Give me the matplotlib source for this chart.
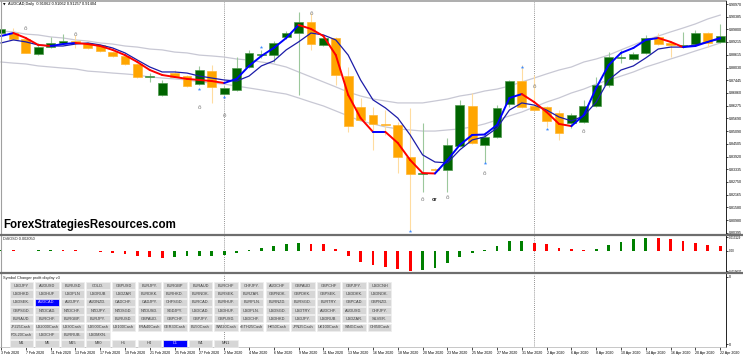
import matplotlib
matplotlib.use("Agg")
import matplotlib.pyplot as plt
from matplotlib.collections import LineCollection
from matplotlib.patches import Rectangle

W, H = 743, 356

# ---- data ----
date_labels = ['3 Feb 2020', '7 Feb 2020', '11 Feb 2020', '13 Feb 2020', '17 Feb 2020',
               '19 Feb 2020', '21 Feb 2020', '25 Feb 2020', '27 Feb 2020', '2 Mar 2020',
               '4 Mar 2020', '6 Mar 2020', '9 Mar 2020', '11 Mar 2020', '13 Mar 2020',
               '16 Mar 2020', '18 Mar 2020', '20 Mar 2020', '23 Mar 2020', '25 Mar 2020',
               '27 Mar 2020', '31 Mar 2020', '2 Apr 2020', '6 Apr 2020', '8 Apr 2020',
               '10 Apr 2020', '14 Apr 2020', '16 Apr 2020', '20 Apr 2020', '22 Apr 2020']

opens = [0.8963, 0.8963, 0.8935, 0.8866, 0.8898, 0.8917, 0.8924, 0.8917, 0.8908, 0.8875,
         0.8857, 0.8820, 0.8760, 0.8677, 0.8778, 0.8764, 0.8727, 0.8788, 0.8681, 0.8700,
         0.8806, 0.8861, 0.8861, 0.8945, 0.8963, 0.9014, 0.8908, 0.8940, 0.8764, 0.8621,
         0.8584, 0.8543, 0.8538, 0.8390, 0.8312, 0.8335, 0.8330, 0.8441, 0.8626, 0.8446,
         0.8483, 0.8635, 0.8741, 0.8626, 0.8621, 0.8594, 0.8547, 0.8552, 0.8626, 0.8723,
         0.8848, 0.8843, 0.8871, 0.8945, 0.8917, 0.8903, 0.8912, 0.8963, 0.8922]
highs = [0.9000, 0.8986, 0.8940, 0.8917, 0.8945, 0.8958, 0.8954, 0.8922, 0.8912, 0.8880,
         0.8861, 0.8824, 0.8778, 0.8746, 0.8792, 0.8769, 0.8811, 0.8815, 0.8718, 0.8852,
         0.8885, 0.8885, 0.8926, 0.8972, 0.9060, 0.9055, 0.8945, 0.8945, 0.8806, 0.8663,
         0.8621, 0.8607, 0.8552, 0.8617, 0.8547, 0.8339, 0.8478, 0.8654, 0.8686, 0.8506,
         0.8630, 0.8746, 0.8815, 0.8769, 0.8626, 0.8607, 0.8594, 0.8654, 0.8760, 0.8875,
         0.8885, 0.8875, 0.8954, 0.8963, 0.8922, 0.8968, 0.8977, 0.8968, 0.9005]
lows = [0.8954, 0.8931, 0.8869, 0.8861, 0.8894, 0.8912, 0.8894, 0.8889, 0.8875, 0.8852,
        0.8815, 0.8755, 0.8737, 0.8672, 0.8755, 0.8714, 0.8723, 0.8640, 0.8677, 0.8695,
        0.8801, 0.8848, 0.8829, 0.8935, 0.8677, 0.8885, 0.8903, 0.8723, 0.8506, 0.8557,
        0.8423, 0.8492, 0.8316, 0.8053, 0.8229, 0.8316, 0.8229, 0.8436, 0.8450, 0.8362,
        0.8478, 0.8621, 0.8617, 0.8603, 0.8529, 0.8469, 0.8524, 0.8547, 0.8621, 0.8714,
        0.8824, 0.8838, 0.8866, 0.8908, 0.8852, 0.8894, 0.8908, 0.8898, 0.8917]
closes = [0.8982, 0.8935, 0.8871, 0.8898, 0.8917, 0.8926, 0.8917, 0.8894, 0.8880, 0.8857,
          0.8820, 0.8760, 0.8764, 0.8732, 0.8760, 0.8718, 0.8792, 0.8714, 0.8709, 0.8801,
          0.8871, 0.8866, 0.8917, 0.8963, 0.9014, 0.8912, 0.8940, 0.8769, 0.8533, 0.8561,
          0.8543, 0.8538, 0.8390, 0.8312, 0.8316, 0.8330, 0.8446, 0.8630, 0.8455, 0.8483,
          0.8617, 0.8741, 0.8621, 0.8607, 0.8557, 0.8501, 0.8584, 0.8626, 0.8723, 0.8852,
          0.8852, 0.8866, 0.8940, 0.8912, 0.8908, 0.8908, 0.8963, 0.8917, 0.8949]

fast_ma = [0.8949, 0.8963, 0.8940, 0.8908, 0.8903, 0.8912, 0.8917, 0.8912, 0.8903, 0.8885,
           0.8861, 0.8829, 0.8792, 0.8769, 0.8760, 0.8751, 0.8746, 0.8741, 0.8732, 0.8751,
           0.8811, 0.8857, 0.8894, 0.8940, 0.9000, 0.8982, 0.8949, 0.8861, 0.8677, 0.8570,
           0.8506, 0.8506, 0.8455, 0.8376, 0.8316, 0.8314, 0.8376, 0.8446, 0.8492, 0.8494,
           0.8538, 0.8663, 0.8681, 0.8644, 0.8598, 0.8543, 0.8533, 0.8584, 0.8709, 0.8815,
           0.8871, 0.8894, 0.8931, 0.8940, 0.8922, 0.8898, 0.8903, 0.8922, 0.8940]
slow_ma = [0.8917, 0.8931, 0.8922, 0.8908, 0.8903, 0.8903, 0.8912, 0.8917, 0.8908, 0.8894,
           0.8871, 0.8838, 0.8806, 0.8783, 0.8783, 0.8778, 0.8764, 0.8755, 0.8746, 0.8741,
           0.8764, 0.8811, 0.8834, 0.8885, 0.8922, 0.8963, 0.8954, 0.8931, 0.8861, 0.8746,
           0.8654, 0.8617, 0.8570, 0.8492, 0.8400, 0.8367, 0.8363, 0.8423, 0.8469, 0.8483,
           0.8524, 0.8607, 0.8640, 0.8630, 0.8607, 0.8575, 0.8557, 0.8580, 0.8644, 0.8746,
           0.8792, 0.8811, 0.8848, 0.8889, 0.8898, 0.8898, 0.8908, 0.8922, 0.8935]
band_up = [0.8972, 0.8968, 0.8958, 0.8954, 0.8945, 0.8940, 0.8931, 0.8926, 0.8917, 0.8912,
           0.8903, 0.8898, 0.8889, 0.8885, 0.8875, 0.8871, 0.8861, 0.8857, 0.8852, 0.8843,
           0.8838, 0.8829, 0.8820, 0.8806, 0.8783, 0.8760, 0.8737, 0.8714, 0.8690, 0.8672,
           0.8658, 0.8649, 0.8640, 0.8640, 0.8640, 0.8649, 0.8658, 0.8672, 0.8681, 0.8695,
           0.8704, 0.8718, 0.8737, 0.8755, 0.8774, 0.8792, 0.8806, 0.8829, 0.8843, 0.8861,
           0.8885, 0.8908, 0.8931, 0.8949, 0.8968, 0.8986, 0.9005, 0.9028, 0.9046]
band_dn = [0.8829, 0.8824, 0.8820, 0.8811, 0.8806, 0.8801, 0.8797, 0.8787, 0.8783, 0.8778,
           0.8774, 0.8769, 0.8760, 0.8755, 0.8751, 0.8746, 0.8737, 0.8732, 0.8727, 0.8718,
           0.8709, 0.8700, 0.8690, 0.8681, 0.8663, 0.8644, 0.8626, 0.8603, 0.8580, 0.8557,
           0.8543, 0.8529, 0.8520, 0.8515, 0.8510, 0.8510, 0.8515, 0.8520, 0.8529, 0.8543,
           0.8561, 0.8580, 0.8598, 0.8621, 0.8644, 0.8663, 0.8686, 0.8704, 0.8727, 0.8746,
           0.8764, 0.8783, 0.8806, 0.8824, 0.8843, 0.8861, 0.8880, 0.8898, 0.8917]

osc = [0.0006, 0.0005, 0.0004, 0.0005, 0.0007, 0.0006, 0.0005, 0.0004, -0.0011, -0.0022,
       -0.0033, -0.0048, -0.0057, -0.0062, -0.0057, -0.0048, -0.0045, -0.0043, -0.0038, -0.0019,
       0.0005, 0.0024, 0.0045, 0.0069, 0.0079, 0.0069, 0.0064, 0.0022, -0.0048, -0.0102,
       -0.0133, -0.0149, -0.0174, -0.0187, -0.0181, -0.0164, -0.0117, -0.0054, -0.0022, 0.0010,
       0.0045, 0.0092, 0.0093, 0.0076, 0.0064, 0.0031, 0.0016, 0.0007, 0.0022, 0.0060,
       0.0086, 0.0111, 0.0126, 0.0125, 0.0111, 0.0092, 0.0079, 0.0054, 0.0045]

price_ticks = [0.90970, 0.90385, 0.89800, 0.89215, 0.88615, 0.88030, 0.87445, 0.86860,
               0.86275, 0.85690, 0.85090, 0.84505, 0.83920, 0.83335, 0.82750, 0.82165,
               0.81580, 0.80980, 0.80395]
osc_ticks = [0.013129, 0.0, -0.019037]
osc_tick_labels = ['0.013129', '0.00', '-0.019037']

arrow_bars = [16, 18, 21, 33, 39, 42, 44]
arrow_prices = [0.8704, 0.8667, 0.8898, 0.8050, 0.8362, 0.8806, 0.8520]
sign_bars = [2, 6, 25, 16, 18, 34, 36, 39, 43, 47]
sign_prices = [0.8982, 0.8958, 0.9051, 0.8621, 0.8580, 0.8196, 0.8205, 0.8316, 0.8714, 0.8510]
or_bar, or_price = 35, 0.8196
separator_bars = [18, 43]

symbol_rows = [
    ['USDJPY', 'AUDUSD', 'EURUSD', 'GOLD.', 'GBPUSD', 'EURJPY.', 'EURGBP', 'EURAUD', 'EURCHF',
     'CHFJPY.', 'AUDCHF', 'GBPAUD', 'GBPCHF', 'GBPJPY.', 'USDCNH'],
    ['USDHKD.', 'USDHUF', 'USDPLN', 'USDRUB', 'USDZAR', 'EURDKK.', 'EURHKD.', 'EURNOK.', 'EURSEK.',
     'EURZAR.', 'GBPNOK.', 'GBPDKK.', 'GBPSEK.', 'USDDKK.', 'USDNOK.'],
    ['USDSEK.', 'AUDCAD.', 'AUDJPY.', 'AUDNZD.', 'CADCHF.', 'CADJPY.', 'CHFSGD.', 'EURCAD.', 'EURHUF.',
     'EURPLN.', 'EURNZD.', 'EURSGD.', 'EURTRY.', 'GBPCAD.', 'GBPNZD.'],
    ['GBPSGD.', 'NZDCAD.', 'NZDCHF.', 'NZDJPY.', 'NZDSGD.', 'NZDUSD.', 'SGDJPY.', 'USDCAD.', 'USDHUF.',
     'USDPLN.', 'USDSGD.', 'USDTRY.', 'AUDCHF.', 'AUDUSD.', 'CHFJPY.'],
    ['EURAUD.', 'EURCHF.', 'EURGBP.', 'EURJPY.', 'EURUSD.', 'GBPAUD.', 'GBPCHF.', 'GBPJPY.', 'GBPUSD.',
     'USDCHF.', 'USDHKD.', 'USDJPY.', 'USDRUB.', 'USDZAR.', 'SILVER.'],
    ['JP225Cash', 'US2000Cash', 'US30Cash', 'US500Cash', 'US100Cash', 'FRA40Cash', 'GER30Cash',
     'EU50Cash', 'SWI20Cash', 'sETH25Cash', 'HK50Cash', 'JPN25Cash', 'UK100Cash', 'SINGCash',
     'CHI50Cash'],
    ['POL20Cash', 'USDCHF', 'EURRUB.', 'USDMXN.'],
]
active_symbol = 'AUDCAD.'
timeframes = ['M1', 'M5', 'M15', 'M30', 'H1', 'H4', 'D1', 'W1', 'MN1']
active_tf = 'D1'

plt.rcParams['font.family'] = ['Liberation Sans', 'DejaVu Sans']
SMALL = 2.6

# ---- figure ----
fig = plt.figure(figsize=(W / 100, H / 100), dpi=100)
fig.patch.set_facecolor('white')


def box(left, top, right, bottom):
    return [left / W, 1 - bottom / H, (right - left) / W, (bottom - top) / H]


ax = fig.add_axes(box(0, 2, 726, 234))
ax_osc = fig.add_axes(box(0, 236, 726, 272))
ax_sym = fig.add_axes(box(0, 274, 726, 347))
ax_ui = fig.add_axes([0, 0, 1, 1])
ax_ui.set_xlim(0, W)
ax_ui.set_ylim(H, 0)
ax_ui.axis('off')

idx = list(range(len(closes)))
for a in (ax, ax_osc, ax_sym):
    a.set_xlim(-1 / 12.4, 725 / 12.4)
    for s in a.spines.values():
        s.set_visible(False)
    a.yaxis.tick_right()
    a.tick_params(axis='y', length=1.3, width=0.5, pad=0.5, labelsize=SMALL, colors='black')
    for b in separator_bars:
        a.axvline(b, color='#707070', ls=(0, (1, 1.5)), lw=0.6, zorder=1)

# main price panel
ax.set_ylim(0.80344, 0.91063)
ax.set_xticks([])
ax.set_yticks(price_ticks)
ax.set_yticklabels([f'{v:.5f}' for v in price_ticks])

ax.plot(idx, band_up, color='#c8c8d4', lw=0.9, zorder=2)
ax.plot(idx, band_dn, color='#c8c8d4', lw=0.9, zorder=2)

bull = [c >= o for o, c in zip(opens, closes)]
wick_cols = ['#9cc89c' if b else '#ffdca0' for b in bull]
ax.vlines(idx, lows, highs, colors=wick_cols, lw=0.8, zorder=3)
body_bottom = [min(o, c) for o, c in zip(opens, closes)]
body_h = [max(abs(c - o), 0.00012) for o, c in zip(opens, closes)]
ax.bar(idx, body_h, bottom=body_bottom, width=0.72,
       color=['#006400' if b else '#ffa500' for b in bull],
       edgecolor=['#4f9a4f' if b else '#ffb733' for b in bull], linewidth=0.5, zorder=4)

ax.plot(idx, slow_ma, color='#1c1ca8', lw=0.9, zorder=5)
segs = [[(i, fast_ma[i]), (i + 1, fast_ma[i + 1])] for i in range(len(fast_ma) - 1)]
seg_cols = ['#ff0000' if fast_ma[i + 1] < fast_ma[i] else '#0000ff' for i in range(len(fast_ma) - 1)]
ax.add_collection(LineCollection(segs, colors=seg_cols, linewidths=1.4, zorder=6,
                                 capstyle='round', joinstyle='round'))

ax.scatter(arrow_bars, arrow_prices, marker='*', s=7, color='#3d8bff', linewidths=0, zorder=7)
for b, p in zip(sign_bars, sign_prices):
    ax.text(b, p, '\u00f4', fontsize=4.5, color='#7a7a7a', ha='center', va='center', zorder=7)
ax.text(or_bar, or_price, 'or', fontsize=4, color='#303030', ha='center', va='center',
        fontweight='bold', zorder=7)

# oscillator panel
ax_osc.set_ylim(-0.01995, 0.01425)
ax_osc.set_xticks([])
ax_osc.set_yticks(osc_ticks)
ax_osc.set_yticklabels(osc_tick_labels)
ax_osc.tick_params(axis='y', labelsize=2.2)
osc_cols = ['#008000' if i == 0 or osc[i] >= osc[i - 1] else '#ff0000' for i in range(len(osc))]
ax_osc.bar(idx, osc, width=0.24, color=osc_cols, linewidth=0, zorder=3)

# symbol changer panel + time scale
ax_sym.set_ylim(0, 1)
ax_sym.set_yticks([0.04, 0.96])
ax_sym.set_yticklabels(['0', '0'])
ax_sym.set_xticks(idx[::2])
ax_sym.set_xticklabels(date_labels, fontsize=SMALL, ha='left')
ax_sym.tick_params(axis='x', length=2, width=0.5, pad=0.8)

# frame lines
ax_ui.plot([0, 726], [1, 1], color='#a0a0a0', lw=1.2)
ax_ui.plot([0.5, 0.5], [1, 347], color='#a0a0a0', lw=0.8)
ax_ui.plot([726, 726], [1, 347], color='black', lw=0.6)
ax_ui.plot([0, W], [235, 235], color='#6e6e6e', lw=1.6)
ax_ui.plot([0, W], [273, 273], color='#6e6e6e', lw=1.6)
ax_ui.plot([0, 726], [347.3, 347.3], color='#b0b0b0', lw=0.5)

# header texts
ax_ui.text(2.5, 4.5, '\u25bc', fontsize=2.4, color='black', va='center',
           family=['DejaVu Sans'])
ax_ui.text(8, 4.5, 'AUDCAD,Daily  0.91062 0.91062 0.91257 0.91404', fontsize=2.8,
           color='black', va='center')
ax_ui.text(3, 231, 'ForexStrategiesResources.com', fontsize=8.3, fontweight='bold',
           family=['Liberation Sans Narrow', 'Liberation Sans', 'DejaVu Sans'],
           color='black', va='bottom')
ax_ui.text(3, 238.5, 'DiSOSO 0.002050', fontsize=2.8, color='#202020', va='center')
ax_ui.text(3, 277.5, 'Symbol Changer profit display v3', fontsize=2.8, color='#202020',
           va='center')


def button(x, y, label, active):
    face = '#0000ff' if active else '#d6d6d6'
    ax_ui.add_patch(Rectangle((x, y), 23.5, 7.2, facecolor=face, edgecolor='#ededed',
                              lw=0.5, zorder=5))
    ax_ui.text(x + 11.75, y + 3.7, label, fontsize=2.8, ha='center', va='center',
               color='#e8d0ff' if active else '#3a3a3a', zorder=6)


for r, row in enumerate(symbol_rows):
    for c, name in enumerate(row):
        button(9.5 + 25.6 * c, 282 + 8.3 * r, name, name == active_symbol)
for c, tf in enumerate(timeframes):
    button(9.5 + 25.6 * c, 339.8, tf, tf == active_tf)

fig.savefig('out.png', dpi=100)
